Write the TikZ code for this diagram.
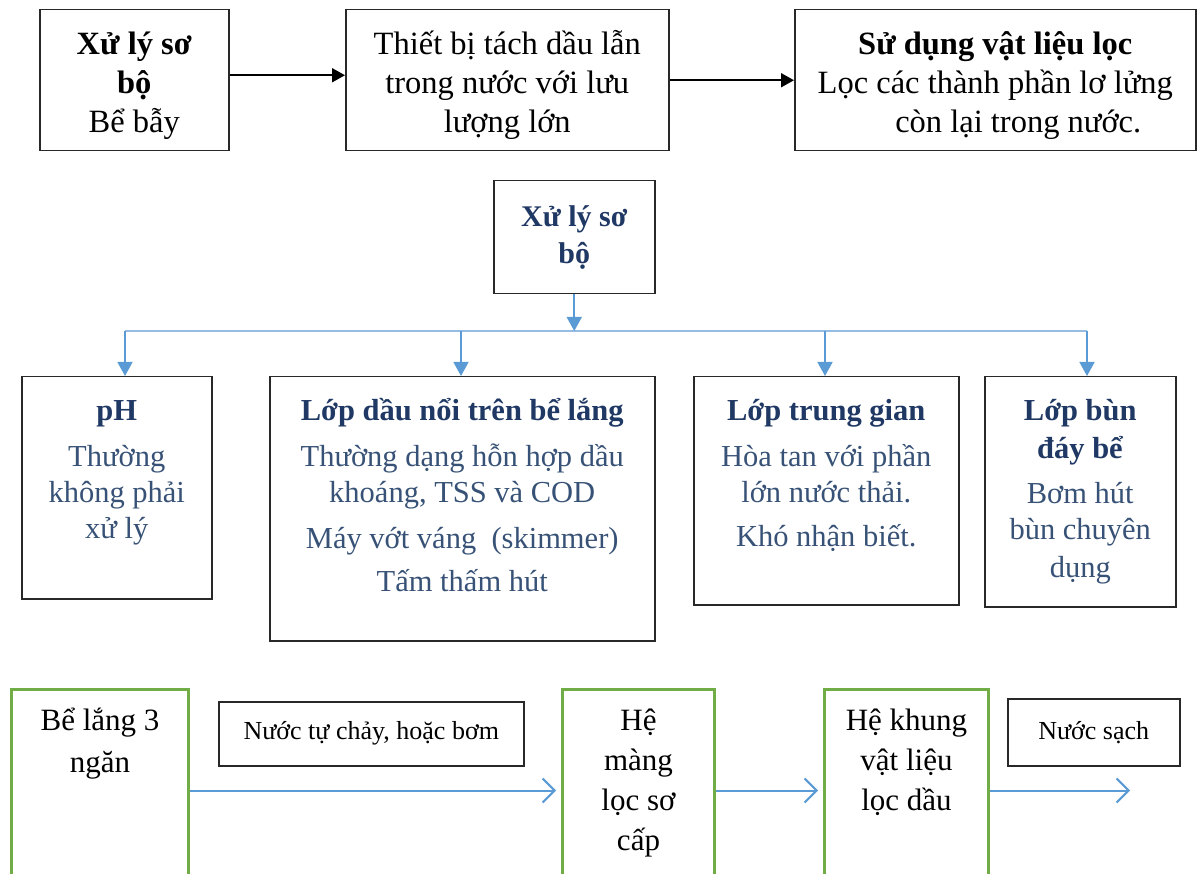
\documentclass[tikz,border=0pt]{standalone}
\usepackage{fontspec}
\setmainfont{Liberation Serif}
\usetikzlibrary{arrows.meta,positioning}

\definecolor{boxgray}{RGB}{40,40,40}
\definecolor{titleblue}{RGB}{31,56,100}
\definecolor{textblue}{RGB}{55,82,118}
\definecolor{arrowblue}{RGB}{91,155,213}
\definecolor{busblue}{RGB}{150,188,228}
\definecolor{boxgreen}{RGB}{112,173,71}

\begin{document}
\begin{tikzpicture}[x=1pt,y=-1pt,
        box/.style={draw=boxgray, line width=1.5pt, inner sep=0pt, anchor=north west},
        topbox/.style={box, align=center, font=\fontsize{32.5}{39}\selectfont},
        midtxt/.style={align=center, inner sep=0pt, text=textblue, font=\fontsize{30.5}{36}\selectfont},
        greenbox/.style={draw=boxgreen, line width=3pt, inner sep=0pt, anchor=north west, minimum height=202pt},
        greentxt/.style={align=center, inner sep=0pt, font=\fontsize{31}{40}\selectfont},
        labelbox/.style={box, font=\fontsize{26}{32}\selectfont},
        blackarrow/.style={-{Triangle[length=13pt,width=14pt]}, line width=1.8pt},
        bluearrow/.style={-{Triangle[length=14pt,width=15pt]}, draw=arrowblue, line width=1.6pt},
        flowarrow/.style={-{Straight Barb[length=12pt,width=24pt]}, draw=arrowblue, line width=2pt, shorten >=5pt}
    ]
    \useasboundingbox (0,0) rectangle (1197,874);
    \clip (0,0) rectangle (1197,874);

    % Top row:
    \node[topbox, minimum width=189pt, minimum height=141pt] (trap) at (39,9)
        {\rule{0pt}{34pt}\textbf{Xử lý sơ}\\ \textbf{bộ}\\ Bể bẫy};
    \node[topbox, minimum width=323pt, minimum height=141pt] (sep) at (345,9)
        {\rule{0pt}{34pt}Thiết bị tách dầu lẫn\\ trong nước với lưu\\ lượng lớn};
    \node[topbox, minimum width=401pt, minimum height=141pt] (filt) at (794,9)
        {\rule{0pt}{34pt}\textbf{Sử dụng vật liệu lọc}\\ Lọc các thành phần lơ lửng\\ \hspace*{46pt}còn lại trong nước.};

    \draw[blackarrow] ([yshift=5pt]trap.east) -- ([yshift=5pt]sep.west);
    \draw[blackarrow] (sep.east) -- (filt.west);

    % Middle row:
    \node[box, minimum width=161pt, minimum height=113pt, align=center, text=titleblue,
        font=\fontsize{30}{37}\selectfont\bfseries] (pre) at (493,180) {Xử lý sơ\\ bộ};

    \node[box, minimum width=190pt, minimum height=222pt] (ph) at (21,376) {};
    \node[box, minimum width=385pt, minimum height=264pt] (oil) at (269,376) {};
    \node[box, minimum width=265pt, minimum height=228pt] (mid) at (693,376) {};
    \node[box, minimum width=191pt, minimum height=230pt] (sludge) at (984,376) {};

    \node[midtxt, below=19pt of ph.north] (phtxt)
        {\strut\textcolor{titleblue}{\textbf{pH}}\\[10pt] Thường\\ không phải\\ xử lý};
    \node[midtxt, below=19pt of oil.north] (oiltxt)
        {\strut\textcolor{titleblue}{\textbf{Lớp dầu nổi trên bể lắng}}\\[10pt]
         Thường dạng hỗn hợp dầu\\ khoáng, TSS và COD\\[10pt]
         Máy vớt váng~ (skimmer)\\[7pt] Tấm thấm hút};
    \node[midtxt, below=19pt of mid.north] (midtxt)
        {\strut\textcolor{titleblue}{\textbf{Lớp trung gian}}\\[10pt]
         Hòa tan với phần\\ lớn nước thải.\\[8pt] Khó nhận biết.};
    \node[midtxt, below=19pt of sludge.north] (sludgetxt)
        {\strut\textcolor{titleblue}{\textbf{Lớp bùn}}\\[2pt]
         \textcolor{titleblue}{\textbf{đáy bể}}\\[9pt]
         Bơm hút\\ bùn chuyên\\[2pt] dụng};

    % bus and drops
    \coordinate (bus) at (573,331);
    \coordinate (b1) at (125,331);
    \coordinate (b2) at (461,331);
    \coordinate (b3) at (825,331);
    \coordinate (b4) at (1087,331);
    \draw[busblue, line width=1.3pt] (b1) -- (b4);
    \draw[bluearrow] (pre.south) -- (pre.south |- bus);
    \foreach \c/\n in {b1/ph, b2/oil, b3/mid, b4/sludge}
        \draw[bluearrow] (\c) -- (\c |- \n.north);

    % Bottom row:
    \node[greenbox, minimum width=177pt] (tank) at (10,688) {};
    \node[greenbox, minimum width=152pt] (memb) at (561,688) {};
    \node[greenbox, minimum width=164pt] (frame) at (823,688) {};

    \node[greentxt, below=14pt of tank.north] (tanktxt) {\strut Bể lắng 3\\[2pt] ngăn};
    \node[greentxt, below=14pt of memb.north] (membtxt) {\strut Hệ\\ màng\\ lọc sơ\\ cấp};
    \node[greentxt, below=14pt of frame.north] (frametxt) {\strut Hệ khung\\ vật liệu\\ lọc dầu};

    \node[labelbox, minimum width=305pt, minimum height=64pt] (flow) at (218,701) {Nước tự chảy, hoặc bơm};
    \node[labelbox, minimum width=172pt, minimum height=67pt] (clean) at (1007,698) {Nước sạch};

    %arrows
    \coordinate (out) at (1130,788);
    \draw[flowarrow] (tank.east) -- (memb.west);
    \draw[flowarrow] (memb.east) -- (frame.west);
    \draw[flowarrow, shorten >=0pt] (frame.east) -- (frame.east -| out);
\end{tikzpicture}
\end{document}
